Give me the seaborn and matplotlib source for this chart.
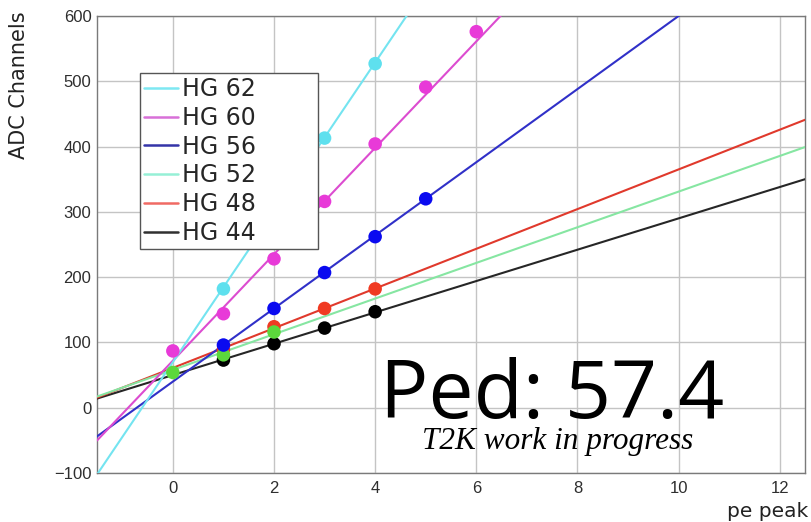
import numpy as np
import pandas as pd
import matplotlib
matplotlib.use("Agg")
import matplotlib.pyplot as plt
from matplotlib.lines import Line2D
from matplotlib.ticker import MultipleLocator
import seaborn as sns

# Gain settings and measured photo-electron peak positions
gains = ["HG 62", "HG 60", "HG 56", "HG 52", "HG 48", "HG 44"]

hg62_pe = [1, 3, 4]
hg62_adc = [182, 413, 527]
hg60_pe = [0, 1, 2, 3, 4, 5, 6]
hg60_adc = [87, 144, 228, 316, 404, 491, 576]
hg56_pe = [1, 2, 3, 4, 5]
hg56_adc = [96, 152, 207, 262, 320]
hg52_pe = [0, 1, 2]
hg52_adc = [54, 81, 116]
hg48_pe = [1, 2, 3, 4]
hg48_adc = [89, 124, 152, 182]
hg44_pe = [1, 2, 3, 4]
hg44_adc = [73, 98, 122, 147]

# Linear fit results (ADC = intercept + slope * pe)
fit_slope = [114.75, 81.5, 56.0, 27.3, 30.4, 24.0]
fit_intercept = [69.8, 72.0, 40.0, 58.0, 61.0, 50.0]

pedestal_text = "Ped: 57.4"

line_colors = ["#74e4f0", "#dc4cd0", "#3030c8", "#86e6a2", "#e0392c", "#262626"]
point_colors = ["#5ee0ee", "#e83ad8", "#0a0af0", "#5cd83c", "#f03a22", "#000000"]
legend_colors = ["#7ee8f2", "#d870d8", "#3434a8", "#96f0d6", "#f06a64", "#303030"]

pe_lists = [hg62_pe, hg60_pe, hg56_pe, hg52_pe, hg48_pe, hg44_pe]
adc_lists = [hg62_adc, hg60_adc, hg56_adc, hg52_adc, hg48_adc, hg44_adc]

points = pd.concat(
    [pd.DataFrame({"pe": p, "adc": a, "gain": g}) for g, p, a in zip(gains, pe_lists, adc_lists)],
    ignore_index=True,
)

x_lo, x_hi = -1.5, 12.5
fit_x = np.array([x_lo, x_hi])
fits = pd.concat(
    [pd.DataFrame({"pe": fit_x, "adc": b + m * fit_x, "gain": g})
     for g, m, b in zip(gains, fit_slope, fit_intercept)],
    ignore_index=True,
)

sns.set_theme(style="white")
plt.rcParams["font.family"] = ["Liberation Sans", "DejaVu Sans"]

fig = plt.figure(figsize=(8.12, 5.22), dpi=100)
ax = fig.add_axes([97 / 812, 1 - 473 / 522, (805 - 97) / 812, (473 - 16) / 522])

# draw low-gain series first so higher gains sit on top
for i in reversed(range(len(gains))):
    g = gains[i]
    sns.lineplot(data=fits[fits.gain == g], x="pe", y="adc", ax=ax,
                 color=line_colors[i], lw=1.5, legend=False, zorder=3 + (5 - i) * 0.1)
    sns.scatterplot(data=points[points.gain == g], x="pe", y="adc", ax=ax,
                    color=point_colors[i], s=95, edgecolor="none", legend=False,
                    zorder=4 + (5 - i) * 0.1)

ax.set_xlim(x_lo, x_hi)
ax.set_ylim(-100, 600)
ax.xaxis.set_major_locator(MultipleLocator(2))
ax.xaxis.set_minor_locator(MultipleLocator(0.5))
ax.yaxis.set_major_locator(MultipleLocator(100))
ax.yaxis.set_minor_locator(MultipleLocator(20))
ax.grid(True, which="major", color="#c4c4c4", lw=1.0, zorder=0)
ax.set_axisbelow(True)
ax.tick_params(axis="both", which="both", direction="in", color="#7a7a7a",
               labelcolor="#2e2e2e", labelsize=12, width=1.0,
               top=False, right=False)
ax.tick_params(axis="y", which="major", length=18, pad=4)
ax.tick_params(axis="y", which="minor", length=9)
ax.tick_params(axis="x", which="major", length=12, pad=6)
ax.tick_params(axis="x", which="minor", length=7)
for sp in ax.spines.values():
    sp.set_color("#7a7a7a")
    sp.set_linewidth(1.0)
ax.set_xlabel("")
ax.set_ylabel("")

fig.text(19 / 812, 1 - 11 / 522, "ADC Channels", rotation=90, ha="center", va="top",
         fontsize=15, family=["DejaVu Sans"], color="#222222")
fig.text(808 / 812, 1 - 517 / 522, "pe peak", ha="right", va="baseline",
         fontsize=14.5, family=["DejaVu Sans"], color="#222222")

# legend box with a fixed width, lines only
lx0, lw_ = (140 - 97) / 708, 178 / 708
ly_top, lh = (473 - 73) / 457, 172 / 457
handles = [Line2D([0], [0], color=c, lw=1.8) for c in legend_colors]
leg = ax.legend(handles, gains, loc="upper left", mode="expand",
                bbox_to_anchor=(lx0, ly_top - lh, lw_, lh),
                frameon=True, fancybox=False, framealpha=1, edgecolor="#555555",
                prop={"family": "DejaVu Sans", "size": 17},
                handlelength=1.45, handletextpad=0.15,
                labelspacing=0.2, borderpad=0.18, borderaxespad=0)
leg.get_frame().set_linewidth(1.0)
leg.set_zorder(10)

ax.text(7.5, -15, pedestal_text, ha="center", va="baseline",
        fontsize=58, family=["Open Sans", "DejaVu Sans"], color="black", zorder=11)
ax.text(7.6, -63, "T2K work in progress", ha="center", va="baseline",
        fontsize=22.5, family=["Liberation Serif", "DejaVu Serif"], style="italic",
        color="black", zorder=11)

fig.savefig("out.png", dpi=100)
